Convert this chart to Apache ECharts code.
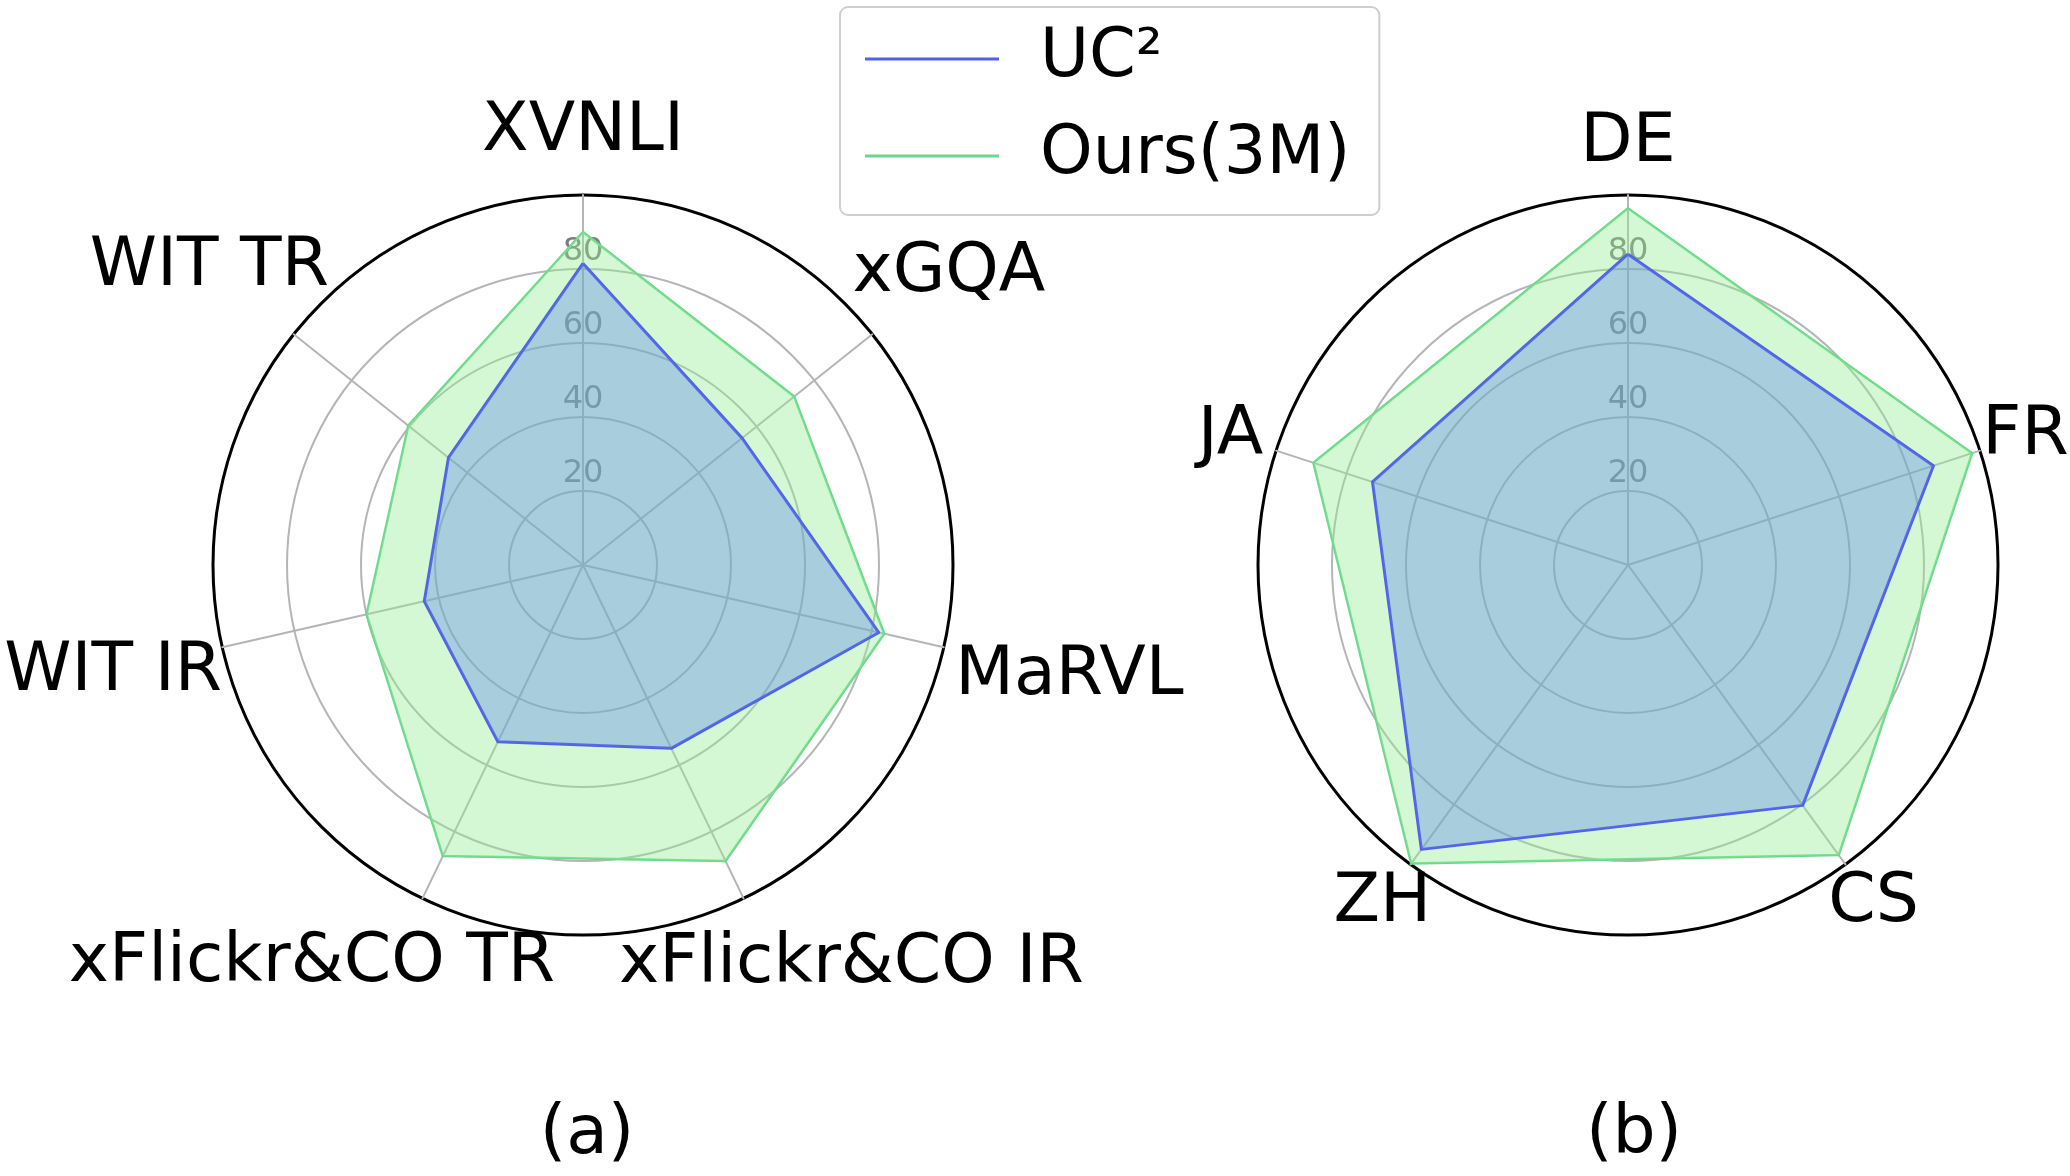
<!DOCTYPE html>
<html>
<head>
<meta charset="utf-8">
<script src="https://cdn.jsdelivr.net/npm/echarts@6/dist/echarts.min.js"></script>
<style>
html,body{margin:0;padding:0;background:#fff;}
#chart{width:2070px;height:1176px;}
</style>
</head>
<body>
<div id="chart"></div>
<script>
// ---- data (clockwise from the top axis) ----
const catsA = ['XVNLI', 'xGQA', 'MaRVL', 'xFlickr&CO IR', 'xFlickr&CO TR', 'WIT IR', 'WIT TR'];
const uc2A  = [81.5, 55, 82, 55, 53, 44, 46.5];
const oursA = [90, 73, 83.5, 88.8, 87.3, 60, 60.4];

const catsB = ['DE', 'FR', 'CS', 'ZH', 'JA'];
const uc2B  = [84, 86.8, 80.3, 95, 72.6];
const oursB = [96.4, 97.8, 96.9, 99.7, 89.4];

const radialTicks = [0, 20, 40, 60, 80, 100];
const seriesNames = ['UC\u00B2', 'Ours(3M)'];
const panelLabels = ['(a)', '(b)'];

// ---- layout / style ----
const FONT = 'DejaVu Sans';
const BLUE = '#5262e6';
const GREEN = '#6ad88c';
const GRID = '#b5b5b5';
const R = 370;
const centerA = [583, 565];
const centerB = [1628, 565];
const labelDistA = [433, 468, 499, 481, 482, 482, 478];
const labelTurnA = [0, 0, 0, 8.2, -8.5, 0, 0];
const labelDistB = [422, 418, 418, 418, 418];
const labelTurnB = [0, 0, 0, 0, 0];

// ECharts places radar indicators counter-clockwise; reorder clockwise lists
function ccw(arr) { return [arr[0]].concat(arr.slice(1).reverse()); }

function radarBlocks(center, cats) {
  const ind = ccw(cats).map((c, i) => {
    const o = { name: c, min: radialTicks[0], max: radialTicks[radialTicks.length - 1] };
    if (i === 0) o.axisLabel = { show: true };
    return o;
  });
  const gridColors = radialTicks.map((t, i) => i === radialTicks.length - 1 ? 'rgba(0,0,0,0)' : GRID);
  return [
    {
      center: center, radius: R, shape: 'circle', startAngle: 90,
      splitNumber: radialTicks.length - 1,
      indicator: ind,
      axisName: { show: false },
      axisLine: { show: true, lineStyle: { color: GRID, width: 2 } },
      axisTick: { show: false },
      splitArea: { show: false },
      splitLine: { show: true, lineStyle: { color: gridColors, width: 2 } },
      axisLabel: {
        show: false, showMinLabel: false, showMaxLabel: false,
        color: '#7c7c7c', fontSize: 32, fontFamily: FONT,
        align: 'center', verticalAlign: 'bottom', margin: 0, padding: [0, 0, 1, 0]
      }
    },
    {
      center: center, radius: R, shape: 'circle', startAngle: 90,
      splitNumber: 1,
      indicator: cats.map(() => ({ name: '', min: 0, max: 100 })),
      axisName: { show: false },
      axisLine: { show: false },
      axisTick: { show: false },
      axisLabel: { show: false },
      splitArea: { show: false },
      splitLine: { show: true, lineStyle: { color: ['rgba(0,0,0,0)', '#000'], width: 3 } }
    }
  ];
}

function radarSeries(radarIndex, uc2, ours) {
  return {
    type: 'radar', radarIndex: radarIndex, symbol: 'none', silent: true,
    data: [
      { name: seriesNames[1], value: ccw(ours),
        lineStyle: { color: GREEN, width: 2.5 }, itemStyle: { color: GREEN },
        areaStyle: { color: '#90ee90', opacity: 0.4 } },
      { name: seriesNames[0], value: ccw(uc2),
        lineStyle: { color: BLUE, width: 3 }, itemStyle: { color: BLUE },
        areaStyle: { color: 'rgb(88,128,242)', opacity: 0.35 } }
    ]
  };
}

function catLabels(center, cats, dists, turns) {
  const n = cats.length;
  return cats.map((c, k) => {
    const a = (90 - k * 360 / n + turns[k]) * Math.PI / 180;
    return {
      type: 'text',
      x: center[0] + dists[k] * Math.cos(a),
      y: center[1] - dists[k] * Math.sin(a),
      style: { text: c, fontSize: 68, fontFamily: FONT, fill: '#000',
               align: 'center', verticalAlign: 'middle' }
    };
  });
}

const chart = echarts.init(document.getElementById('chart'), null, { renderer: 'canvas' });
const option = {
  backgroundColor: '#fff',
  animation: false,
  radar: radarBlocks(centerA, catsA).concat(radarBlocks(centerB, catsB)),
  legend: {
    data: seriesNames.map(n => ({ name: n })),
    orient: 'vertical', left: 840, top: 7,
    padding: [12, 29, 19, 25], itemGap: 17,
    itemWidth: 134, itemHeight: 3, icon: 'rect',
    backgroundColor: '#fff', borderColor: '#cfcfcf', borderWidth: 2, borderRadius: 8,
    selectedMode: false,
    textStyle: { fontSize: 67, fontFamily: FONT, color: '#000', padding: [0, 0, 0, 36], lineHeight: 80 }
  },
  series: [radarSeries(0, uc2A, oursA), radarSeries(2, uc2B, oursB)],
  graphic: catLabels(centerA, catsA, labelDistA, labelTurnA)
    .concat(catLabels(centerB, catsB, labelDistB, labelTurnB))
    .concat([
      { type: 'text', x: 587, y: 1135, style: { text: panelLabels[0], fontSize: 68, fontFamily: FONT, fill: '#000', align: 'center', verticalAlign: 'middle' } },
      { type: 'text', x: 1634, y: 1135, style: { text: panelLabels[1], fontSize: 68, fontFamily: FONT, fill: '#000', align: 'center', verticalAlign: 'middle' } }
    ])
};
chart.setOption(option);
</script>
</body>
</html>
